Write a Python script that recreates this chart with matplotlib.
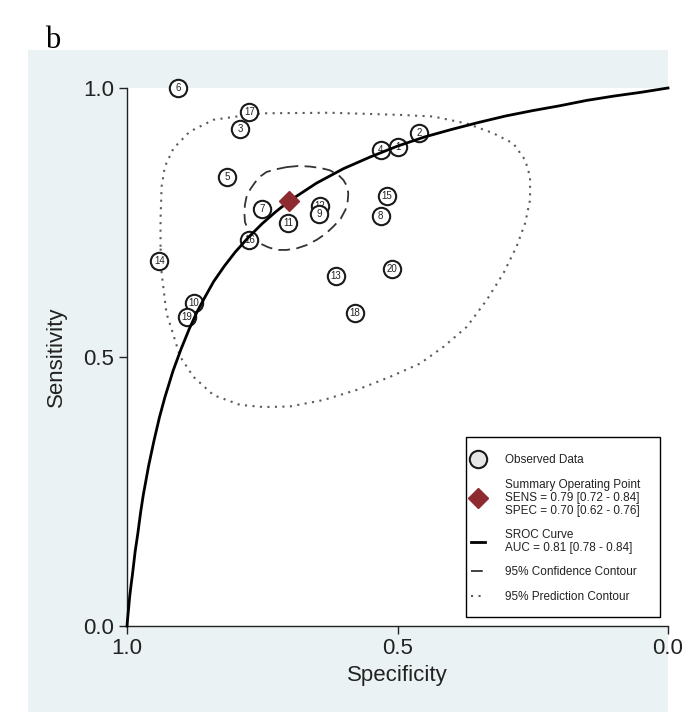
import matplotlib
matplotlib.use("Agg")
import matplotlib.pyplot as plt
from matplotlib.patches import Rectangle
from matplotlib.lines import Line2D

plt.rcParams['font.family'] = ['Liberation Sans', 'DejaVu Sans']

# observed studies (specificity, sensitivity)
# listed in drawing order (12 sits under 9)
study_ids = [1, 2, 3, 4, 5, 6, 7, 8, 12, 9, 10, 11, 13, 14, 15, 16, 17, 18, 19, 20]
study_spec = [0.500, 0.460, 0.791, 0.531, 0.815, 0.905, 0.750, 0.531, 0.643, 0.645,
              0.876, 0.702, 0.614, 0.940, 0.520, 0.774, 0.774, 0.579, 0.889, 0.510]
study_sens = [0.891, 0.916, 0.924, 0.885, 0.834, 1.000, 0.776, 0.762, 0.781, 0.765,
              0.601, 0.750, 0.651, 0.678, 0.800, 0.717, 0.955, 0.582, 0.574, 0.663]

# summary operating point
summ_spec = 0.70
summ_sens = 0.79

# SROC curve
sroc_spec = [1.0, 0.999, 0.997, 0.995, 0.992, 0.99, 0.985, 0.98, 0.975, 0.97, 0.96,
             0.95, 0.94, 0.93, 0.915, 0.90, 0.885, 0.87, 0.855, 0.84, 0.82, 0.80,
             0.775, 0.75, 0.725, 0.70, 0.65, 0.60, 0.55, 0.50, 0.45, 0.40, 0.35,
             0.30, 0.25, 0.20, 0.15, 0.10, 0.05, 0.0]
sroc_sens = [0.0, 0.012, 0.033, 0.055, 0.08, 0.095, 0.138, 0.172, 0.21, 0.243, 0.298,
             0.345, 0.388, 0.425, 0.474, 0.515, 0.552, 0.585, 0.613, 0.64, 0.669, 0.695,
             0.723, 0.748, 0.770, 0.79, 0.823, 0.85, 0.872, 0.892, 0.909, 0.923, 0.936,
             0.948, 0.958, 0.967, 0.977, 0.985, 0.992, 1.0]

# 95% confidence contour
conf_spec = [0.705, 0.684, 0.662, 0.641, 0.625, 0.610, 0.600, 0.593, 0.591, 0.592,
             0.596, 0.605, 0.619, 0.633, 0.649, 0.668, 0.686, 0.705, 0.723, 0.739,
             0.754, 0.766, 0.776, 0.782, 0.783, 0.782, 0.779, 0.772, 0.763, 0.753,
             0.742, 0.724, 0.705]
conf_sens = [0.853, 0.855, 0.854, 0.851, 0.847, 0.839, 0.829, 0.817, 0.804, 0.790,
             0.774, 0.757, 0.742, 0.729, 0.718, 0.708, 0.702, 0.699, 0.699, 0.704,
             0.711, 0.723, 0.736, 0.751, 0.767, 0.783, 0.798, 0.812, 0.825, 0.836,
             0.844, 0.849, 0.853]

# 95% prediction contour
pred_spec = [0.938, 0.938, 0.936, 0.930, 0.914, 0.884, 0.840, 0.797, 0.748, 0.625,
             0.495, 0.434, 0.372, 0.323, 0.286, 0.264, 0.255, 0.255, 0.264, 0.280,
             0.304, 0.335, 0.372, 0.415, 0.458, 0.514, 0.575, 0.637, 0.699, 0.748,
             0.791, 0.840, 0.877, 0.902, 0.917, 0.927, 0.933, 0.936, 0.938]
pred_sens = [0.705, 0.755, 0.817, 0.854, 0.888, 0.919, 0.941, 0.947, 0.953, 0.954,
             0.950, 0.947, 0.934, 0.916, 0.897, 0.866, 0.835, 0.792, 0.749, 0.705,
             0.656, 0.606, 0.556, 0.519, 0.488, 0.463, 0.439, 0.420, 0.408, 0.407,
             0.411, 0.429, 0.463, 0.501, 0.550, 0.581, 0.631, 0.656, 0.705]

ticks = [1.0, 0.5, 0.0]
tick_labels = ["1.0", "0.5", "0.0"]

legend_labels = ["Observed Data",
                 "Summary Operating Point\nSENS = 0.79 [0.72 - 0.84]\nSPEC = 0.70 [0.62 - 0.76]",
                 "SROC Curve\nAUC = 0.81 [0.78 - 0.84]",
                 "95% Confidence Contour",
                 "95% Prediction Contour"]

W, H = 691, 714
fig = plt.figure(figsize=(W / 100, H / 100), dpi=100)

# light bluish panel behind the graph
fig.patches.append(Rectangle((28 / W, 0.003), (668 - 28) / W, (714 - 50) / H - 0.003,
                             transform=fig.transFigure, facecolor='#eaf2f3',
                             edgecolor='none', zorder=-10))

ax = fig.add_axes([127 / W, 1 - 626 / H, 541 / W, 538 / H])
ax.set_facecolor('white')
ax.set_xlim(1, 0)
ax.set_ylim(0, 1)

dots = (0, (1, 2.6))
dashes = (0, (6.5, 3.5))
ax.plot(pred_spec, pred_sens, color='#5a5a5a', lw=1.5, linestyle=dots, zorder=2.5)
ax.plot(conf_spec, conf_sens, color='#333333', lw=1.3, linestyle=dashes, zorder=2.5)

# study circles with their numbers
for i, (sid, sx, sy) in enumerate(zip(study_ids, study_spec, study_sens)):
    ax.plot(sx, sy, 'o', ms=12.5, mfc='white', mec='#1a1a1a', mew=1.5,
            clip_on=False, zorder=3 + i * 0.01)
    ax.text(sx, sy, str(sid), fontsize=7, ha='center', va='center',
            color='#222222', zorder=3 + i * 0.01 + 0.005)

ax.plot(sroc_spec, sroc_sens, color='black', lw=2, zorder=5, clip_on=False,
        solid_joinstyle='round')
ax.plot(summ_spec, summ_sens, 'D', ms=10, color='#8e2b30', zorder=6)

ax.set_xticks(ticks)
ax.set_xticklabels(tick_labels)
ax.set_yticks(ticks)
ax.set_yticklabels(tick_labels)
ax.tick_params(axis='both', direction='out', length=6, width=1, color='#222222',
               labelsize=16, labelcolor='#222222', pad=3)

for s in ['top', 'right']:
    ax.spines[s].set_visible(False)
for s in ['left', 'bottom']:
    ax.spines[s].set_color('#222222')
    ax.spines[s].set_linewidth(1)

ax.set_xlabel("Specificity", fontsize=16, color='#222222', labelpad=4)
ax.set_ylabel("Sensitivity", fontsize=16, color='#222222', labelpad=12)

# legend box drawn separately so its padding can match
ax.add_patch(Rectangle((0.627, 0.017), 0.358, 0.334, transform=ax.transAxes,
                       facecolor='white', edgecolor='black', lw=1, zorder=9))
handles = [
    Line2D([], [], marker='o', ls='none', ms=12.5, mfc='#e6e6e6', mec='#1a1a1a', mew=1.5),
    Line2D([], [], marker='D', ls='none', ms=10, color='#8e2b30'),
    Line2D([], [], color='black', lw=2),
    Line2D([], [], color='#333333', lw=1.3, linestyle=dashes),
    Line2D([], [], color='#5a5a5a', lw=1.5, linestyle=dots),
]
leg = ax.legend(handles, legend_labels, loc='upper left', bbox_to_anchor=(0.635, 0.319),
                fontsize=8.5, handlelength=1.2, handletextpad=1.7, labelspacing=1.05,
                borderpad=0, borderaxespad=0, frameon=False)
leg.set_zorder(10)
for t in leg.get_texts():
    t.set_linespacing(1.1)
    t.set_color('#222222')

fig.text(45 / W, 1 - 41 / H, "b", family='Liberation Serif', fontsize=22, va='center')

fig.savefig("out.png", dpi=100)
